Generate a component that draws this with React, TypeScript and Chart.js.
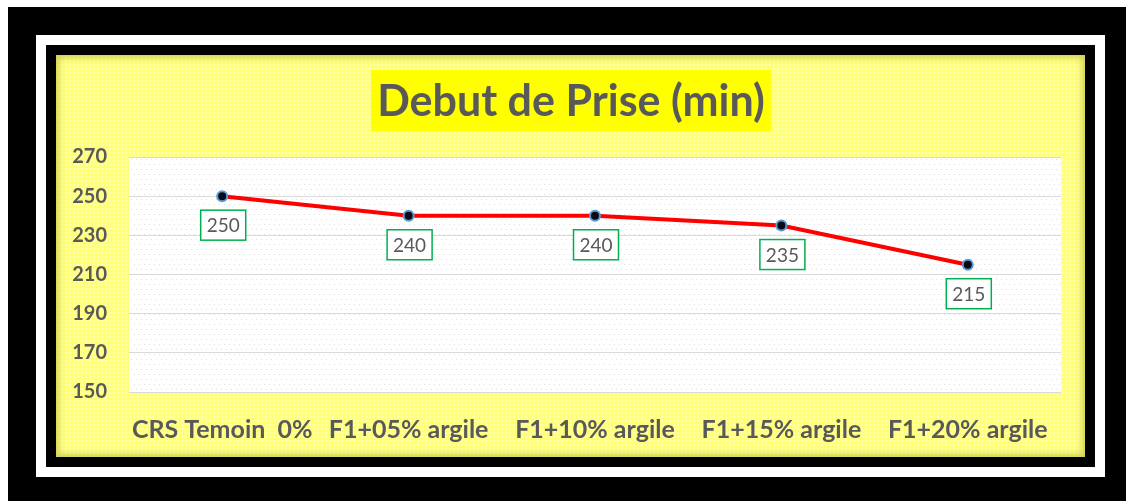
import React, { useEffect, useRef } from "react";
import { Chart, registerables } from "chart.js";

Chart.register(...registerables);

const categories = ["CRS Temoin  0%", "F1+05% argile", "F1+10% argile", "F1+15% argile", "F1+20% argile"];
const values = [250, 240, 240, 235, 215];
const yTicks = [150, 170, 190, 210, 230, 250, 270];
const title = "Debut de Prise (min)";

const FONT = "Lato, 'Open Sans', sans-serif";
const GREY = "#595959";

const plotBg = {
  id: "plotBg",
  beforeDraw(chart: any) {
    const { ctx, chartArea } = chart;
    if (!chartArea) return;
    ctx.save();
    ctx.fillStyle = "#ffffff";
    ctx.fillRect(chartArea.left, chartArea.top, chartArea.right - chartArea.left, chartArea.bottom - chartArea.top);
    ctx.fillStyle = "#dedede";
    for (let y = chartArea.top + 2; y < chartArea.bottom; y += 5) {
      for (let x = chartArea.left + 2 + ((Math.round((y - chartArea.top) / 5) % 2) * 2.5); x < chartArea.right; x += 5) {
        ctx.fillRect(Math.round(x), Math.round(y), 1, 1);
      }
    }
    ctx.restore();
  },
};

const titlePlugin = {
  id: "titleBox",
  afterDraw(chart: any) {
    const { ctx } = chart;
    ctx.save();
    ctx.font = `bold 43px ${FONT}`;
    const w = ctx.measureText(title).width;
    const cx = 515;
    const boxW = w + 12;
    ctx.fillStyle = "#ffff00";
    ctx.fillRect(cx - boxW / 2, 15, boxW, 61);
    ctx.fillStyle = GREY;
    ctx.textAlign = "center";
    ctx.textBaseline = "middle";
    ctx.fillText(title, cx, 47);
    ctx.restore();
  },
};

const labelPlugin = {
  id: "pointLabels",
  afterDatasetsDraw(chart: any) {
    const { ctx } = chart;
    const meta = chart.getDatasetMeta(0);
    ctx.save();
    ctx.font = `19px ${FONT}`;
    ctx.textAlign = "center";
    ctx.textBaseline = "middle";
    meta.data.forEach((pt: any, i: number) => {
      const txt = String(values[i]);
      const cx = pt.x + 1;
      const cy = pt.y + 29;
      const bw = 45;
      const bh = 30;
      ctx.fillStyle = "#ffffff";
      ctx.fillRect(cx - bw / 2, cy - bh / 2, bw, bh);
      ctx.strokeStyle = "#00b050";
      ctx.lineWidth = 1.5;
      ctx.strokeRect(cx - bw / 2, cy - bh / 2, bw, bh);
      ctx.fillStyle = GREY;
      ctx.fillText(txt, cx, cy + 1);
    });
    ctx.restore();
  },
};

export default function App() {
  const ref = useRef<HTMLCanvasElement>(null);
  useEffect(() => {
    if (!ref.current) return;
    const chart = new Chart(ref.current, {
      type: "line",
      data: {
        labels: categories,
        datasets: [
          {
            data: values,
            borderColor: "#ff0000",
            borderWidth: 4,
            pointRadius: 5,
            pointBackgroundColor: "#0a0a14",
            pointBorderColor: "#5b9bd5",
            pointBorderWidth: 2,
            tension: 0,
          },
        ],
      },
      options: {
        animation: false,
        responsive: false,
        layout: { padding: { top: 102, right: 24, left: 0, bottom: 0 } },
        plugins: { legend: { display: false }, tooltip: { enabled: false }, title: { display: false } },
        scales: {
          x: {
            offset: true,
            grid: { display: false, drawTicks: false },
            border: { display: false },
            ticks: { color: GREY, font: { family: FONT, size: 25, weight: "bold" }, padding: 23, maxRotation: 0, autoSkip: false },
            afterFit(scale: any) { scale.height = 65; },
          },
          y: {
            min: 150,
            max: 270,
            afterBuildTicks(scale: any) { scale.ticks = yTicks.map((v) => ({ value: v })); },
            grid: { color: "#d9d9d9", lineWidth: 1, drawTicks: false },
            border: { display: false },
            ticks: { color: GREY, font: { family: FONT, size: 20, weight: "bold" }, padding: 22 },
            afterFit(scale: any) { scale.width = 73; },
          },
        },
      },
      plugins: [plotBg, titlePlugin, labelPlugin],
    });
    return () => chart.destroy();
  }, []);

  return (
    <div style={{ position: "fixed", left: 8, top: 7, right: -10, bottom: -10, background: "#000" }}>
      <div style={{ position: "absolute", left: 28, top: 28, width: 1069, height: 442, background: "#fff" }} />
      <div style={{ position: "absolute", left: 38, top: 38, width: 1049, height: 422, background: "#000" }} />
      <div
        style={{
          position: "absolute",
          left: 48,
          top: 48,
          width: 1029,
          height: 402,
          backgroundColor: "#ffff7a",
          backgroundImage: "radial-gradient(circle, #ffffb0 1px, transparent 1.3px)",
          backgroundSize: "4px 4px",
          boxShadow: "inset 0 0 6px 3px rgba(170,170,40,0.55)",
        }}
      >
        <canvas ref={ref} width={1029} height={402} style={{ display: "block" }} />
      </div>
    </div>
  );
}
